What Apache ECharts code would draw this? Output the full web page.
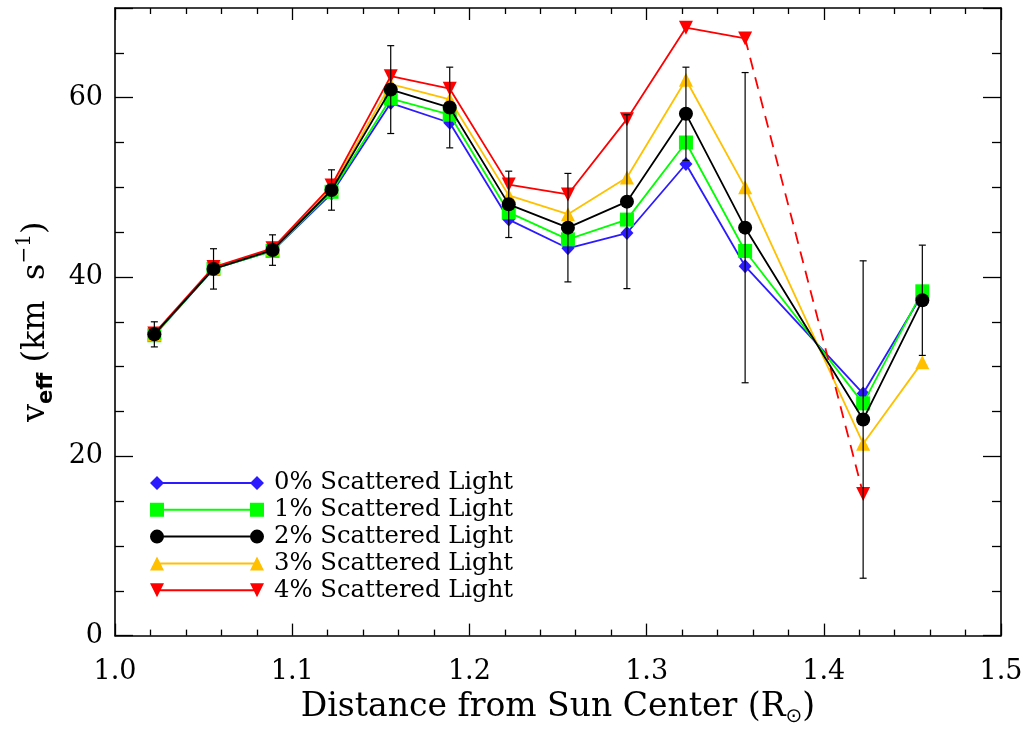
<!DOCTYPE html>
<html>
<head>
<meta charset="utf-8">
<script src="https://cdn.jsdelivr.net/npm/echarts@6/dist/echarts.min.js"></script>
<style>html,body{margin:0;padding:0;background:#fff}#c{width:1031px;height:732px}</style>
</head>
<body>
<div id="c"></div>
<script>
// Data
const xVals = [1.0222, 1.0556, 1.0889, 1.1222, 1.1556, 1.1889, 1.2222, 1.2556, 1.2889, 1.3222, 1.3556, 1.4222, 1.4556];
const blue   = [33.5, 40.9, 42.9, 49.3, 59.4, 57.2, 46.4, 43.2, 44.9, 52.6, 41.2, 27.0, 38.1];
const green  = [33.5, 40.9, 42.9, 49.5, 59.9, 58.1, 47.2, 44.2, 46.4, 55.0, 42.9, 25.9, 38.4];
const black  = [33.6, 40.9, 43.0, 49.7, 60.9, 58.9, 48.1, 45.5, 48.4, 58.2, 45.5, 24.1, 37.4];
const orange = [33.6, 41.0, 43.1, 49.9, 61.5, 59.8, 49.1, 47.0, 51.1, 62.0, 50.0, 21.4, 30.5];
const red    = [33.7, 41.1, 43.2, 50.2, 62.4, 61.0, 50.3, 49.2, 57.6, 67.8, 66.6, 15.8, null];
const errHalf = [1.4, 2.25, 1.7, 2.25, 4.9, 4.5, 3.7, 6.05, 9.7, 5.2, 17.3, 17.7, 6.15];
const seriesNames = ['0% Scattered Light', '1% Scattered Light', '2% Scattered Light', '3% Scattered Light', '4% Scattered Light'];
const xTicks = { min: 1.0, max: 1.5, interval: 0.1 };
const yTicks = { min: 0, max: 70, interval: 20 };

const COLORS = ['#2d1bff', '#00ff00', '#000000', '#ffc000', '#ff0000'];
const SERIF = 'DejaVu Serif';

function pairs(arr) { return xVals.map((x, i) => [x, arr[i]]); }

// legend icons: line with symbol at both ends (114 x 14)
const L = 'M7,6L107,6L107,8L7,8Z';
const icons = [
  'path://M0,7L7,0L14,7L7,14Z M100,7L107,0L114,7L107,14Z ' + L,
  'path://M0,0L14,0L14,14L0,14Z M100,0L114,0L114,14L100,14Z ' + L,
  'path://M0,7A7,7,0,1,1,14,7A7,7,0,1,1,0,7Z M100,7A7,7,0,1,1,114,7A7,7,0,1,1,100,7Z ' + L,
  'path://M0,14L7,0L14,14Z M100,14L107,0L114,14Z ' + L,
  'path://M0,0L14,0L7,14Z M100,0L114,0L107,14Z ' + L
];

const redSolid = pairs(red).map((p, i) => (i <= 10 ? p : [p[0], null]));
const redDash = [{ value: [xVals[10], red[10]], symbol: 'none' }, { value: [xVals[11], red[11]] }];

const axisCommon = {
  type: 'value',
  axisLine: { show: true, onZero: false, lineStyle: { color: '#000', width: 1.6 } },
  splitLine: { show: false },
};

const chart = echarts.init(document.getElementById('c'), null, { renderer: 'canvas' });
chart.setOption({
  animation: false,
  backgroundColor: '#fff',
  grid: { left: 115, right: 30, top: 8, bottom: 96, containLabel: false },
  legend: {
    orient: 'vertical', left: 150, top: 471, padding: 0,
    itemWidth: 114, itemHeight: 14, itemGap: 2.8,
    selectedMode: false,
    textStyle: { fontFamily: SERIF, fontSize: 24.3, color: '#000', padding: [0, 0, 0, 5] },
    data: seriesNames.map((n, i) => ({ name: n, icon: icons[i], itemStyle: { color: COLORS[i] } }))
  },
  xAxis: [
    Object.assign({}, axisCommon, {
      position: 'bottom', min: xTicks.min, max: xTicks.max, interval: xTicks.interval,
      axisTick: { show: true, inside: true, length: 12, lineStyle: { color: '#000', width: 1.3 } },
      minorTick: { show: true, splitNumber: 5, length: 6, lineStyle: { color: '#000', width: 1.3 } },
      axisLabel: { show: true, margin: 23, fontFamily: SERIF, fontSize: 27, color: '#000', formatter: v => v.toFixed(1) },
      name: '{m|Distance from Sun Center (R}{s|⊙}{m|)}',
      nameLocation: 'middle', nameGap: 44,
      nameTextStyle: {
        rich: {
          m: { fontFamily: SERIF, fontSize: 33, color: '#000', lineHeight: 40, verticalAlign: 'middle' },
          s: { fontFamily: 'DejaVu Sans', fontSize: 20, color: '#000', lineHeight: 40, verticalAlign: 'bottom' }
        }
      }
    }),
    Object.assign({}, axisCommon, {
      position: 'top', min: xTicks.min, max: xTicks.max, interval: xTicks.interval,
      axisTick: { show: true, inside: true, length: 12, lineStyle: { color: '#000', width: 1.3 } },
      minorTick: { show: true, splitNumber: 5, length: 6, lineStyle: { color: '#000', width: 1.3 } },
      axisLabel: { show: false }
    })
  ],
  yAxis: [
    Object.assign({}, axisCommon, {
      position: 'left', min: yTicks.min, max: yTicks.max, interval: yTicks.interval,
      axisTick: { show: true, inside: true, length: 18, lineStyle: { color: '#000', width: 1.3 } },
      minorTick: { show: true, splitNumber: 4, length: 9, lineStyle: { color: '#000', width: 1.3 } },
      axisLabel: { show: true, margin: 12, fontFamily: SERIF, fontSize: 27, color: '#000', showMaxLabel: false },
      name: '{m|v}{s|eff}{m| (km  s}{p|−1}{m|)}',
      nameLocation: 'middle', nameRotate: 90, nameGap: 58,
      nameTextStyle: {
        padding: [0, 0, 0, 0],
        rich: {
          m: { fontFamily: SERIF, fontSize: 32, color: '#000', lineHeight: 42, verticalAlign: 'middle' },
          s: { fontFamily: 'DejaVu Sans', fontWeight: 'bold', fontSize: 21, color: '#000', lineHeight: 42, verticalAlign: 'bottom' },
          p: { fontFamily: SERIF, fontSize: 20, color: '#000', lineHeight: 42, verticalAlign: 'top' }
        }
      }
    }),
    Object.assign({}, axisCommon, {
      position: 'right', min: yTicks.min, max: yTicks.max, interval: yTicks.interval,
      axisTick: { show: true, inside: true, length: 18, lineStyle: { color: '#000', width: 1.3 } },
      minorTick: { show: true, splitNumber: 4, length: 9, lineStyle: { color: '#000', width: 1.3 } },
      axisLabel: { show: false }
    })
  ],
  series: [
    { name: seriesNames[0], type: 'line', data: pairs(blue), symbol: 'diamond', symbolSize: [13, 14], z: 2,
      itemStyle: { color: COLORS[0] }, lineStyle: { color: COLORS[0], width: 1.8 } },
    { name: seriesNames[1], type: 'line', data: pairs(green), symbol: 'rect', symbolSize: 14, z: 3,
      itemStyle: { color: COLORS[1] }, lineStyle: { color: COLORS[1], width: 1.8 } },
    { name: seriesNames[3], type: 'line', data: pairs(orange), symbol: 'triangle', symbolSize: 14, z: 4,
      itemStyle: { color: COLORS[3] }, lineStyle: { color: COLORS[3], width: 1.8 } },
    { name: seriesNames[4], type: 'line', data: redSolid, symbol: 'triangle', symbolRotate: 180, symbolSize: 14, z: 5,
      connectNulls: false, itemStyle: { color: COLORS[4] }, lineStyle: { color: COLORS[4], width: 1.8 } },
    { name: seriesNames[4] + ' ', type: 'line', data: redDash, symbol: 'triangle', symbolRotate: 180, symbolSize: 14, z: 5,
      itemStyle: { color: COLORS[4] }, lineStyle: { color: COLORS[4], width: 1.8, type: [12, 8] } },
    { name: seriesNames[2], type: 'line', data: pairs(black), symbol: 'circle', symbolSize: 14, z: 7,
      itemStyle: { color: COLORS[2] }, lineStyle: { color: COLORS[2], width: 1.8 } },
    { name: 'err', type: 'custom', z: 6,
      data: xVals.map((x, i) => [x, black[i], errHalf[i]]),
      renderItem: function (params, api) {
        const x = api.value(0), y = api.value(1), e = api.value(2);
        const t = api.coord([x, y + e]), b = api.coord([x, y - e]);
        const w = 3.5, st = { stroke: '#000', lineWidth: 1.2 };
        return { type: 'group', children: [
          { type: 'line', shape: { x1: t[0], y1: t[1], x2: b[0], y2: b[1] }, style: st },
          { type: 'line', shape: { x1: t[0] - w, y1: t[1], x2: t[0] + w, y2: t[1] }, style: st },
          { type: 'line', shape: { x1: b[0] - w, y1: b[1], x2: b[0] + w, y2: b[1] }, style: st }
        ] };
      }
    }
  ]
});
</script>
</body>
</html>
